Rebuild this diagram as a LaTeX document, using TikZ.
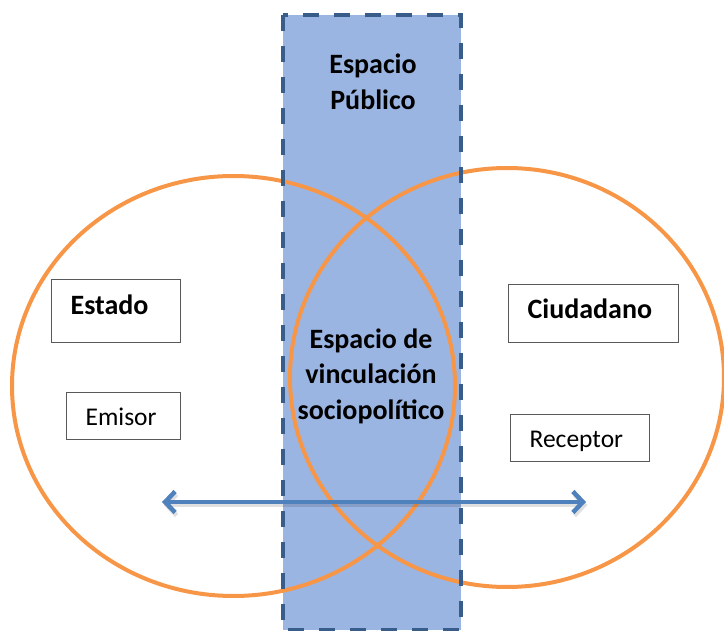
\documentclass[tikz,border=0pt]{standalone}
\usepackage{fontspec}
\setmainfont{Carlito}
\usetikzlibrary{arrows.meta}
\definecolor{naranja}{RGB}{247,150,70}
\definecolor{azulclaro}{RGB}{155,181,227}
\definecolor{azulborde}{RGB}{56,93,138}
\definecolor{azulflecha}{RGB}{79,129,189}

\begin{document}
\begin{tikzpicture}[x=1pt, y=-1pt,
		circulo/.style={draw=naranja, line width=4pt},
		caja/.style={draw=black!65, fill=white, line width=1.2pt, anchor=north west, inner xsep=19pt, inner ysep=0pt, align=left},
		letrab/.style={font=\fontsize{28}{35.5}\selectfont\bfseries},
		letra/.style={font=\fontsize{25.5}{30}\selectfont},
		flecha/.style={line width=4.5pt, {Straight Barb[length=10pt,width=21pt]}-{Straight Barb[length=10pt,width=21pt]}}]
		\useasboundingbox (0,0) rectangle (724,631);
		
		\coordinate (sup) at (283,15);	% Espacio publico
		\coordinate (inf) at (461,630);
		\fill[azulclaro] (sup) rectangle (inf);
		
		\draw[circulo] (233.5,386) ellipse [x radius=221.5pt, y radius=210pt]; % Estado
		\draw[circulo] (507,377.5) ellipse [x radius=217pt, y radius=209.5pt]; % Ciudadano
		
		\draw[azulborde, line width=4pt, dash pattern=on 16pt off 15pt] (sup) rectangle (inf);
		
		\coordinate (izq) at (162,502);
		\coordinate (der) at (586,502);
		\draw[flecha, black, opacity=.12, transform canvas={shift={(1.5pt,-3pt)}}] (izq) -- (der); % sombra
		\draw[flecha, azulflecha] (izq) -- (der);
		
		\node[caja, letrab, text width=91pt, text height=35pt, text depth=28pt] (estado) at (51,279) {Estado};
		\node[caja, letra, text width=76pt, text height=33pt, text depth=14pt] (emisor) at (66,392) {Emisor};
		\node[caja, letrab, text width=132pt, text height=34pt, text depth=24pt] (ciudadano) at (508,284) {Ciudadano};
		\node[caja, letra, text width=101pt, text height=33pt, text depth=14pt] (receptor) at (510,414) {Receptor};
		
		\node[letrab, align=center] (publico) at (373,82) {Espacio\\Público};
		\node[letrab, align=center] (vinculo) at (371,376) {Espacio de\\vinculación\\sociopolítico};
	\end{tikzpicture}
\end{document}
